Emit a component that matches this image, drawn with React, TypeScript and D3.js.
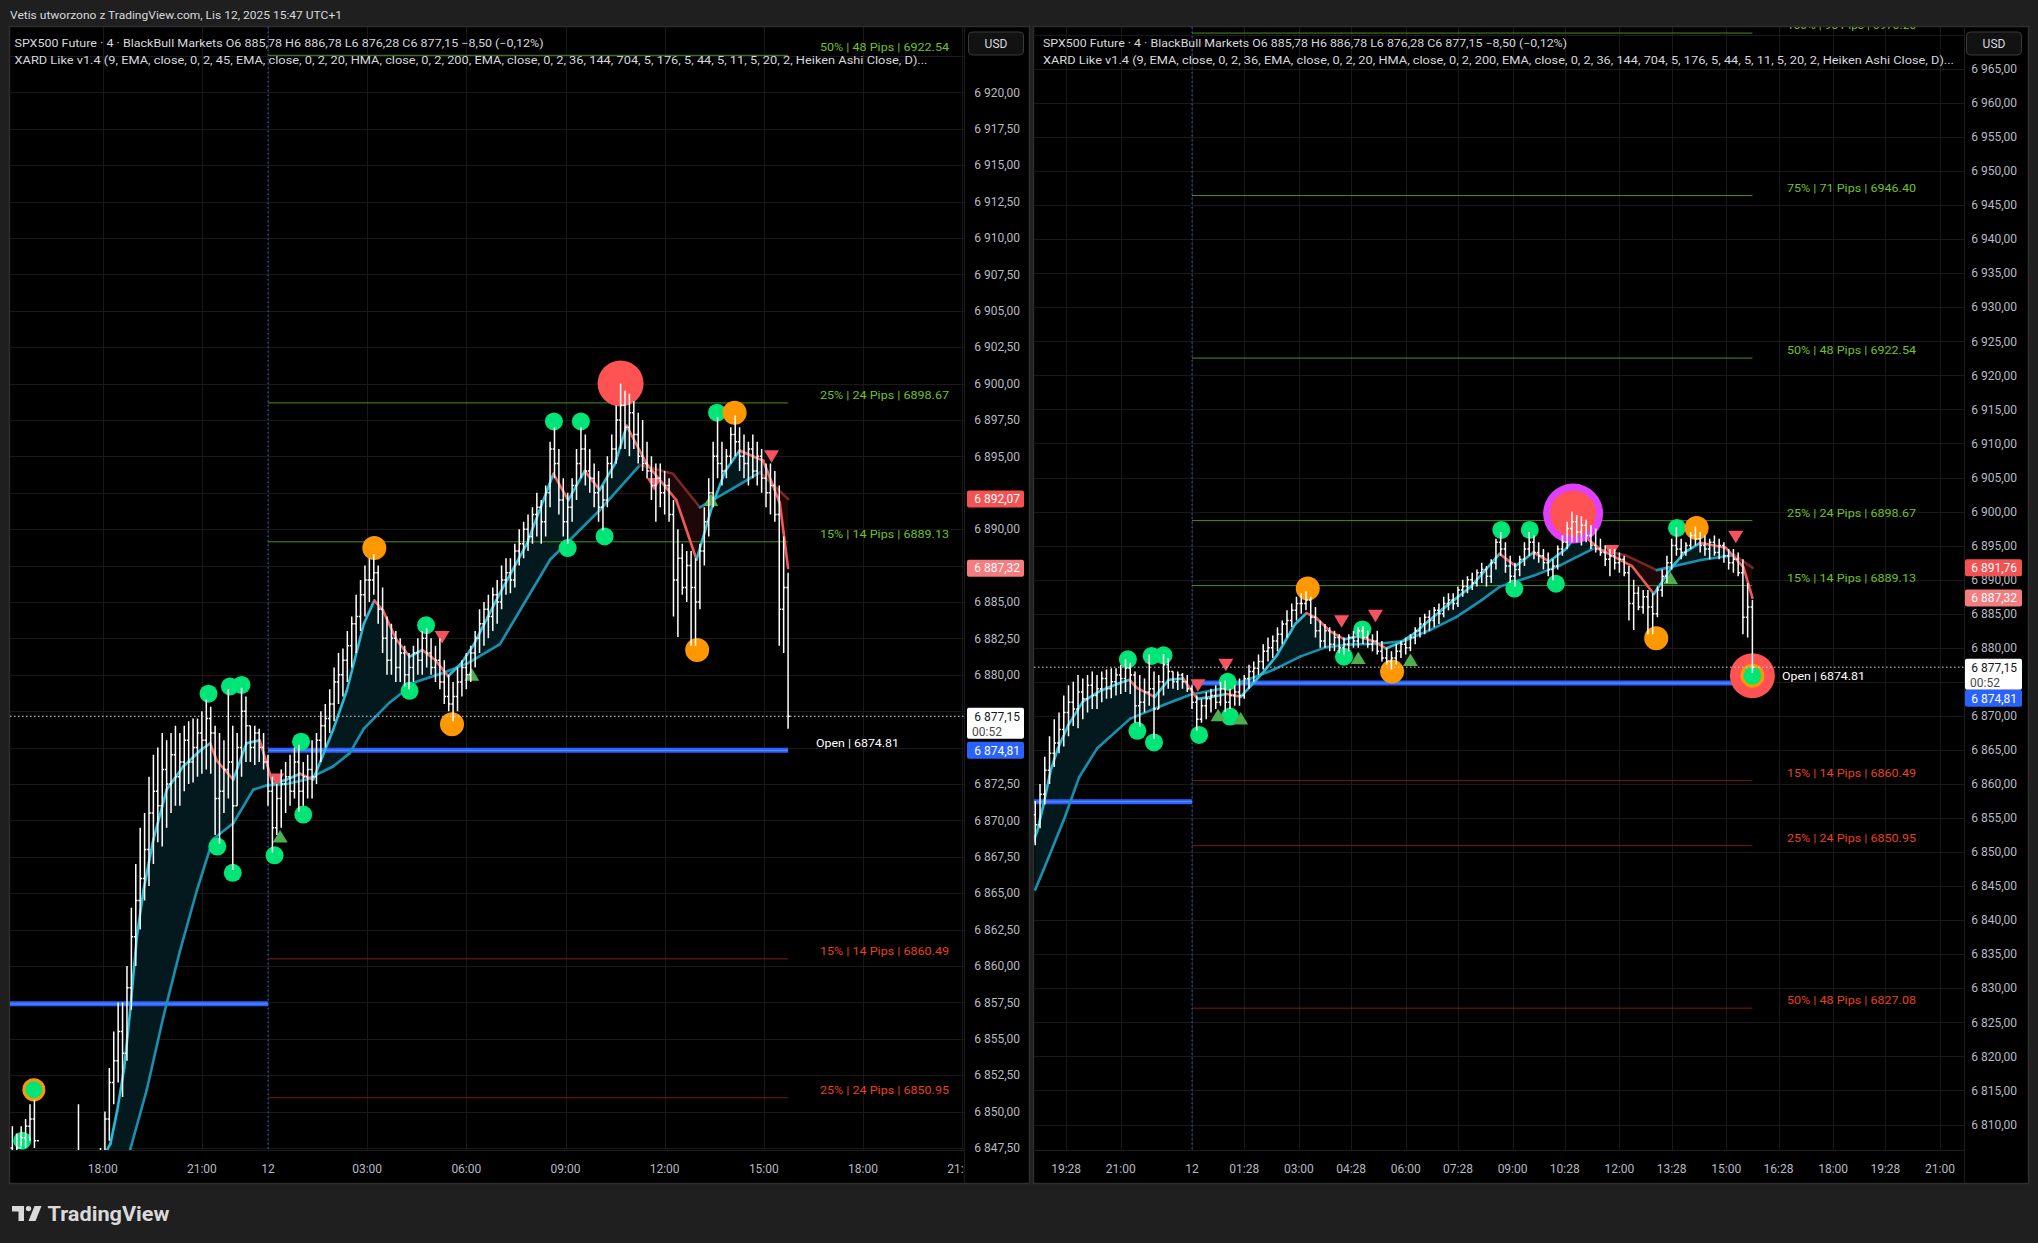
import React, { useEffect } from "react";
import * as d3 from "d3";

const FONT = "Roboto, 'Noto Sans', 'Liberation Sans', sans-serif";

// ---------------- DATA ----------------
// Trading time: "11 HH:MM" = 11 Nov, "12 HH:MM" = 12 Nov (daily break 22:00-23:00 removed on the axis)
const barStart = "11 15:16";
const barStepMin = 8;
const firstBarOpen = 6847.5;
const barHigh = [
  6849.0, 6848.5, 6849.0, 6849.5, 6850.5, 6850.8, 6847.2, 6847.0, 6846.0, 6845.5,
  6845.0, 6845.0, 6846.0, 6846.5, 6847.0, 6850.5, 6847.0, 6847.0, 6847.0, 6847.2,
  6847.5, 6850.0, 6853.0, 6855.5, 6857.5, 6857.5, 6860.0, 6864.0, 6867.0, 6869.5,
  6870.5, 6873.0, 6874.5, 6875.0, 6876.0, 6875.5, 6876.0, 6876.5, 6876.0, 6876.5,
  6876.8, 6877.0, 6877.0, 6877.5, 6878.3, 6877.8, 6876.5, 6876.0, 6875.5, 6879.0,
  6876.5, 6876.0, 6879.1, 6878.5, 6876.5, 6876.5, 6876.3, 6876.0, 6874.5, 6873.0,
  6872.5, 6873.5, 6874.0, 6874.5, 6875.0, 6875.2, 6874.0, 6874.5, 6875.5, 6876.0,
  6877.5, 6878.0, 6879.0, 6880.5, 6881.5, 6881.8, 6883.0, 6884.0, 6885.5, 6886.5,
  6887.5, 6888.0, 6888.3, 6887.5, 6886.0, 6884.0, 6883.5, 6883.0, 6882.5, 6882.0,
  6881.5, 6882.0, 6882.5, 6883.0, 6883.2, 6882.5, 6882.0, 6882.5, 6881.0, 6880.0,
  6879.5, 6880.5, 6881.0, 6881.5, 6882.0, 6883.0, 6884.5, 6885.0, 6885.5, 6886.0,
  6886.5, 6887.5, 6888.0, 6888.0, 6889.0, 6890.0, 6890.5, 6891.0, 6891.5, 6892.5,
  6892.0, 6893.0, 6896.0, 6897.0, 6895.5, 6893.5, 6892.5, 6893.5, 6895.5, 6897.0,
  6896.5, 6895.5, 6894.5, 6894.0, 6893.0, 6895.0, 6896.5, 6898.5, 6900.0, 6899.5,
  6899.3, 6898.8, 6898.0, 6897.5, 6896.0, 6895.0, 6894.5, 6894.5, 6894.0, 6893.5,
  6892.0, 6890.0, 6889.0, 6888.5, 6888.5, 6888.0, 6889.0, 6891.5, 6893.5, 6896.0,
  6897.7, 6896.0, 6895.5, 6897.0, 6897.8, 6897.0, 6896.5, 6896.0, 6896.5, 6896.0,
  6895.5, 6894.5, 6894.5, 6894.0, 6893.0, 6889.5, 6887.0,
];
const barLow = [
  6846.0, 6846.0, 6847.6, 6847.5, 6848.0, 6847.5, 6845.5, 6844.5, 6843.5, 6843.0,
  6842.5, 6842.5, 6843.5, 6844.0, 6844.5, 6845.0, 6845.0, 6844.5, 6845.0, 6845.0,
  6845.5, 6846.5, 6848.0, 6850.5, 6852.0, 6851.0, 6853.5, 6857.0, 6860.0, 6862.5,
  6864.5, 6865.5, 6867.0, 6868.5, 6868.2, 6869.5, 6870.5, 6871.0, 6871.0, 6872.0,
  6872.5, 6872.6, 6873.0, 6873.2, 6873.5, 6873.2, 6869.0, 6868.4, 6870.5, 6871.5,
  6866.6, 6871.0, 6873.0, 6874.0, 6874.0, 6873.8, 6874.0, 6873.5, 6871.0, 6867.8,
  6869.0, 6869.5, 6870.5, 6871.0, 6871.5, 6870.6, 6871.0, 6871.5, 6871.5, 6872.5,
  6874.0, 6875.0, 6876.0, 6876.8, 6878.0, 6878.5, 6879.5, 6880.5, 6881.5, 6883.0,
  6884.0, 6885.0, 6885.5, 6883.5, 6881.5, 6880.0, 6880.0, 6879.5, 6879.5, 6879.2,
  6879.0, 6879.5, 6880.0, 6880.0, 6880.5, 6880.0, 6879.5, 6879.0, 6878.0, 6877.5,
  6876.8, 6877.5, 6878.5, 6879.0, 6879.5, 6880.5, 6881.5, 6882.0, 6882.5, 6883.0,
  6883.5, 6884.5, 6885.5, 6885.6, 6886.0, 6887.5, 6888.0, 6888.5, 6889.0, 6889.5,
  6889.0, 6889.5, 6891.5, 6893.5, 6891.0, 6889.5, 6889.0, 6890.5, 6892.0, 6893.5,
  6893.0, 6892.5, 6891.5, 6890.5, 6889.9, 6891.5, 6893.5, 6894.5, 6895.5, 6895.5,
  6895.0, 6895.5, 6894.5, 6894.0, 6893.5, 6892.0, 6890.5, 6891.5, 6891.0, 6890.5,
  6884.0, 6882.6, 6885.5, 6885.0, 6882.0, 6882.0, 6884.5, 6887.5, 6889.5, 6891.5,
  6893.5, 6893.0, 6893.5, 6894.5, 6895.0, 6894.0, 6893.5, 6893.0, 6893.5, 6893.0,
  6892.5, 6891.5, 6891.0, 6890.5, 6882.0, 6881.5, 6876.3,
];
const barClose = [
  6847.0, 6847.5, 6848.2, 6849.0, 6849.5, 6848.0, 6846.0, 6845.0, 6844.5, 6844.0,
  6843.5, 6844.0, 6845.0, 6845.5, 6846.0, 6847.0, 6846.0, 6845.5, 6846.0, 6846.5,
  6847.0, 6849.5, 6852.0, 6853.5, 6855.5, 6854.0, 6858.5, 6862.0, 6864.5, 6866.0,
  6868.0, 6870.5, 6872.0, 6871.0, 6873.5, 6872.5, 6874.5, 6873.0, 6874.0, 6875.5,
  6874.0, 6875.0, 6876.0, 6875.5, 6877.0, 6876.0, 6871.5, 6872.0, 6873.5, 6874.0,
  6871.0, 6875.0, 6877.5, 6876.5, 6875.0, 6876.0, 6875.0, 6874.0, 6872.0, 6869.5,
  6871.5, 6872.5, 6873.0, 6872.0, 6874.0, 6872.0, 6873.0, 6873.5, 6873.0, 6875.5,
  6876.5, 6877.0, 6878.0, 6879.5, 6880.0, 6881.0, 6882.0, 6883.5, 6884.0, 6885.5,
  6886.5, 6886.5, 6887.0, 6884.5, 6882.5, 6881.0, 6882.5, 6880.5, 6881.5, 6880.0,
  6880.5, 6881.5, 6881.0, 6882.5, 6881.5, 6880.5, 6881.0, 6879.5, 6878.5, 6878.0,
  6878.5, 6879.5, 6880.5, 6880.0, 6881.5, 6882.5, 6883.5, 6884.5, 6884.0, 6885.5,
  6885.0, 6886.5, 6887.0, 6886.5, 6888.5, 6889.0, 6890.0, 6889.5, 6891.0, 6891.5,
  6890.5, 6892.5, 6895.5, 6894.5, 6892.0, 6890.5, 6891.5, 6893.0, 6894.5, 6895.5,
  6894.0, 6893.5, 6892.5, 6891.5, 6892.0, 6894.5, 6895.5, 6897.5, 6898.5, 6897.0,
  6898.0, 6896.5, 6895.0, 6894.5, 6894.0, 6893.0, 6893.5, 6892.5, 6893.0, 6891.0,
  6886.5, 6888.0, 6886.0, 6887.5, 6886.0, 6885.0, 6888.5, 6890.5, 6892.5, 6895.0,
  6894.5, 6894.0, 6895.0, 6896.5, 6896.0, 6895.0, 6894.5, 6895.5, 6894.0, 6895.0,
  6893.5, 6892.5, 6893.0, 6891.0, 6884.5, 6886.0, 6877.15,
];

// fast EMA (9) – shared by both charts
const fastLine: [string, number][] = [
  ["11 15:16", 6847.0], ["11 16:20", 6845.0], ["11 17:20", 6846.0], ["11 18:00", 6846.8],
  ["11 18:14", 6847.8], ["11 18:26", 6850.0], ["11 18:39", 6853.0], ["11 18:50", 6857.0],
  ["11 19:02", 6862.0], ["11 19:14", 6865.2], ["11 19:32", 6868.7], ["11 19:56", 6872.1],
  ["11 20:26", 6873.7], ["11 20:57", 6874.8], ["11 21:15", 6875.3], ["11 21:27", 6874.1],
  ["11 21:57", 6872.8], ["11 23:21", 6875.3], ["11 23:45", 6875.5], ["12 00:09", 6872.5],
  ["12 00:34", 6872.8], ["12 00:58", 6873.2], ["12 01:22", 6872.8], ["12 01:58", 6876.2],
  ["12 02:23", 6878.9], ["12 02:54", 6883.5], ["12 03:13", 6885.1], ["12 03:29", 6884.4],
  ["12 03:53", 6882.4], ["12 04:17", 6881.25], ["12 04:40", 6881.7], ["12 05:04", 6881.0],
  ["12 05:27", 6879.9], ["12 05:51", 6880.8], ["12 06:14", 6882.1], ["12 06:38", 6883.9],
  ["12 07:01", 6885.6], ["12 07:50", 6889.0], ["12 08:38", 6893.8], ["12 09:05", 6892.0],
  ["12 09:35", 6894.0], ["12 10:02", 6892.7], ["12 10:30", 6894.5], ["12 10:51", 6897.1],
  ["12 11:27", 6894.5], ["12 12:21", 6892.0], ["12 12:58", 6887.9], ["12 13:28", 6891.8],
  ["12 13:50", 6894.0], ["12 14:16", 6895.4], ["12 14:59", 6894.7], ["12 15:29", 6891.8],
  ["12 15:44", 6887.32],
];
// slow EMA (45) – left chart
const slowLeft: [string, number][] = [
  ["11 15:16", 6846.0], ["11 17:30", 6845.5], ["11 18:30", 6845.8], ["11 18:50", 6847.4],
  ["11 19:20", 6851.5], ["11 19:50", 6856.5], ["11 20:20", 6861.0], ["11 20:51", 6865.2],
  ["11 21:20", 6868.7], ["11 21:57", 6869.8], ["11 23:33", 6872.1], ["11 23:57", 6872.4],
  ["12 00:34", 6872.5], ["12 01:10", 6872.8], ["12 01:58", 6873.7], ["12 02:28", 6874.6],
  ["12 02:54", 6876.3], ["12 03:41", 6878.1], ["12 04:28", 6879.5], ["12 05:16", 6880.1],
  ["12 06:03", 6880.8], ["12 07:01", 6882.1], ["12 08:32", 6887.9], ["12 10:02", 6891.3],
  ["12 11:15", 6894.4], ["12 12:15", 6893.8], ["12 13:04", 6891.5], ["12 14:04", 6892.8],
  ["12 14:53", 6893.9], ["12 15:44", 6892.07],
];
// slow EMA (36) – right chart
const slowRight: [string, number][] = [
  ["11 18:36", 6844.5], ["11 18:50", 6847.4], ["11 19:24", 6854.7], ["11 19:50", 6861.0],
  ["11 20:20", 6865.2], ["11 21:16", 6869.6], ["11 23:12", 6871.6], ["11 23:57", 6873.1],
  ["12 00:50", 6874.0], ["12 01:34", 6875.3], ["12 02:18", 6876.8], ["12 03:02", 6878.7],
  ["12 03:46", 6880.1], ["12 04:29", 6880.5], ["12 05:13", 6880.6], ["12 05:57", 6881.0],
  ["12 06:41", 6882.6], ["12 07:25", 6884.5], ["12 08:08", 6887.0], ["12 08:39", 6889.0],
  ["12 09:36", 6890.6], ["12 10:20", 6892.1], ["12 11:17", 6894.6], ["12 12:10", 6893.6],
  ["12 13:03", 6891.4], ["12 14:17", 6892.9], ["12 15:13", 6893.6], ["12 15:44", 6891.76],
];

type Marker = { t: string; p: number; k: string };
const leftMarkers: Marker[] = [
  { t: "11 15:34", p: 6848.0, k: "g" }, { t: "11 15:55", p: 6851.5, k: "go" },
  { t: "11 21:12", p: 6878.7, k: "g" }, { t: "11 21:51", p: 6879.2, k: "g" },
  { t: "11 23:12", p: 6879.3, k: "g" }, { t: "11 21:28", p: 6868.2, k: "g" },
  { t: "11 21:56", p: 6866.4, k: "g" }, { t: "12 00:12", p: 6867.6, k: "g" },
  { t: "12 00:16", p: 6872.8, k: "td" }, { t: "12 00:22", p: 6868.9, k: "tu" },
  { t: "12 01:00", p: 6875.4, k: "g" }, { t: "12 01:04", p: 6870.4, k: "g" },
  { t: "12 03:13", p: 6888.7, k: "o" }, { t: "12 04:17", p: 6878.9, k: "g" },
  { t: "12 04:47", p: 6883.4, k: "g" }, { t: "12 05:16", p: 6882.6, k: "td" },
  { t: "12 05:34", p: 6876.6, k: "o" }, { t: "12 06:10", p: 6880.0, k: "tu" },
  { t: "12 08:39", p: 6897.4, k: "g" }, { t: "12 09:04", p: 6888.7, k: "g" },
  { t: "12 09:28", p: 6897.4, k: "g" }, { t: "12 10:11", p: 6889.5, k: "g" },
  { t: "12 10:40", p: 6900.0, k: "R" }, { t: "12 11:41", p: 6893.1, k: "td" },
  { t: "12 12:59", p: 6881.7, k: "o" }, { t: "12 13:24", p: 6892.0, k: "tu" },
  { t: "12 13:35", p: 6898.0, k: "g" }, { t: "12 14:07", p: 6898.0, k: "o" },
  { t: "12 15:14", p: 6895.0, k: "td" },
];
const rightMarkers: Marker[] = [
  { t: "11 21:12", p: 6878.3, k: "g" }, { t: "11 21:52", p: 6878.8, k: "g" },
  { t: "11 23:12", p: 6878.9, k: "g" }, { t: "11 21:28", p: 6867.8, k: "g" },
  { t: "11 21:56", p: 6866.1, k: "g" }, { t: "12 00:12", p: 6867.2, k: "g" },
  { t: "12 00:10", p: 6874.5, k: "td" }, { t: "12 00:57", p: 6877.5, k: "td" },
  { t: "12 01:00", p: 6875.0, k: "g" }, { t: "12 01:04", p: 6869.9, k: "g" },
  { t: "12 00:44", p: 6870.1, k: "tu" }, { t: "12 01:22", p: 6869.6, k: "tu" },
  { t: "12 03:15", p: 6888.7, k: "o" }, { t: "12 04:12", p: 6883.9, k: "td" },
  { t: "12 05:09", p: 6884.7, k: "td" }, { t: "12 04:16", p: 6878.7, k: "g" },
  { t: "12 04:47", p: 6882.7, k: "g" }, { t: "12 04:40", p: 6878.5, k: "tu" },
  { t: "12 06:08", p: 6878.2, k: "tu" }, { t: "12 05:37", p: 6876.5, k: "o" },
  { t: "12 08:41", p: 6897.3, k: "g" }, { t: "12 09:29", p: 6897.3, k: "g" },
  { t: "12 09:03", p: 6888.7, k: "g" }, { t: "12 10:13", p: 6889.4, k: "g" },
  { t: "12 10:42", p: 6899.7, k: "RP" }, { t: "12 11:47", p: 6894.2, k: "td" },
  { t: "12 13:02", p: 6881.4, k: "o" }, { t: "12 13:26", p: 6890.2, k: "tu" },
  { t: "12 13:37", p: 6897.6, k: "g" }, { t: "12 14:10", p: 6897.6, k: "o" },
  { t: "12 15:16", p: 6896.3, k: "td" }, { t: "12 15:44", p: 6875.9, k: "ROG" },
];

const levelPercents = ["100%", "75%", "50%", "25%", "15%"];
const levelPips = [95, 71, 48, 24, 14];
const levelsAbove = [6970.26, 6946.4, 6922.54, 6898.67, 6889.13];
const levelsBelow = [6779.36, 6803.22, 6827.08, 6850.95, 6860.49];
const sessionOpen = 6874.81;
const priorOpen = 6857.4;
const sessionStart = "12 00:00";
const countdown = "00:52";

const leftTimeTicks = ["11 18:00", "11 21:00", "12 00:00", "12 03:00", "12 06:00", "12 09:00", "12 12:00", "12 15:00", "12 18:00", "12 21:00"];
const leftTimeLabels = ["18:00", "21:00", "12", "03:00", "06:00", "09:00", "12:00", "15:00", "18:00", "21:00"];
const rightTimeTicks = ["11 19:28", "11 21:00", "12 00:00", "12 01:28", "12 03:00", "12 04:28", "12 06:00", "12 07:28", "12 09:00", "12 10:28", "12 12:00", "12 13:28", "12 15:00", "12 16:28", "12 18:00", "12 19:28", "12 21:00"];
const rightTimeLabels = ["19:28", "21:00", "12", "01:28", "03:00", "04:28", "06:00", "07:28", "09:00", "10:28", "12:00", "13:28", "15:00", "16:28", "18:00", "19:28", "21:00"];

const leftPriceTicks = d3.range(6847.5, 6922.6, 2.5);
const rightPriceTicks = d3.range(6810, 6970.1, 5);

const titleText = "Vetis utworzono z TradingView.com, Lis 12, 2025 15:47 UTC+1";
const symbolLine = "SPX500 Future · 4 · BlackBull Markets  O6 885,78  H6 886,78  L6 876,28  C6 877,15  −8,50 (−0,12%)";
const leftIndicatorLine = "XARD Like v1.4 (9, EMA, close, 0, 2, 45, EMA, close, 0, 2, 20, HMA, close, 0, 2, 200, EMA, close, 0, 2, 36, 144, 704, 5, 176, 5, 44, 5, 11, 5, 20, 2, Heiken Ashi Close, D)...";
const rightIndicatorLine = "XARD Like v1.4 (9, EMA, close, 0, 2, 36, EMA, close, 0, 2, 20, HMA, close, 0, 2, 200, EMA, close, 0, 2, 36, 144, 704, 5, 176, 5, 44, 5, 11, 5, 20, 2, Heiken Ashi Close, D)...";

// ---------------- helpers ----------------
function toTm(s: string): number {
  const [d, hm] = s.split(" ");
  const [h, m] = hm.split(":").map(Number);
  const mins = h * 60 + m;
  if (d === "12") return mins;
  return mins >= 1380 ? mins - 1440 : mins - 1380;
}
const locale = d3.formatLocale({ decimal: ",", thousands: " ", grouping: [3], currency: ["", ""] });
const priceFmt = locale.format(",.2f");

type Cfg = {
  id: string;
  frame: { x: number; y: number; w: number; h: number };
  plot: { x0: number; x1: number; y0: number; y1: number };
  xDomain: [number, number]; xRange: [number, number];
  yDomain: [number, number]; yRange: [number, number];
  priceTicks: number[];
  timeTicks: string[]; timeLabels: string[];
  slow: [string, number][];
  markers: Marker[];
  headerX: number; header1W: number; header2: string; header2W: number;
  levelLabelX: number; openLabelX: number; labelRight: number; tagX: number;
};

const C = {
  bg: "#1f1f1f", panel: "#000000", border: "#2e2e2e", grid: "#191919",
  text: "#d6d8de", axis: "#b8bac2",
  fastUp: "#27bcd6", fastDn: "#f05a5a", slowUp: "#1791b0", slowDn: "#7a2626",
  fillUp: "#03191e", fillDn: "#1e0707",
  lvlUp: "#4a8f1f", lvlUpText: "#72c021", lvlDn: "#7a1c14", lvlDnText: "#e8401c",
  blue: "#2962ff", green: "#00e676", orange: "#ff9800", red: "#ff5252", magenta: "#e040fb",
  triUp: "#4caf50", triDn: "#f7525f", tagRed: "#f45252", tagPink: "#f77c80",
};

function Panel({ cfg }: { cfg: Cfg }) {
  const { plot, id } = cfg;
  const xs = d3.scaleLinear().domain(cfg.xDomain).range(cfg.xRange);
  const ys = d3.scaleLinear().domain(cfg.yDomain).range(cfg.yRange);
  const t0 = toTm(barStart);
  const lastTm = t0 + (barClose.length - 1) * barStepMin;
  const lastClose = barClose[barClose.length - 1];
  const xStart = xs(toTm(sessionStart));
  const xLast = xs(lastTm);

  // bars (OHLC)
  const tick = 1.8;
  let barPath = "";
  barClose.forEach((c, i) => {
    const o = i === 0 ? firstBarOpen : barClose[i - 1];
    const x = xs(t0 + i * barStepMin);
    barPath += `M${x},${ys(barHigh[i])}V${ys(barLow[i])}M${x - tick},${ys(o)}H${x}M${x},${ys(c)}H${x + tick}`;
  });

  const fastPts: [number, number][] = fastLine.map(([t, v]) => [xs(toTm(t)), ys(v)]);
  const slowPts: [number, number][] = cfg.slow.map(([t, v]) => [xs(toTm(t)), ys(v)]);
  const areaBelow = d3.area<[number, number]>().x((d) => d[0]).y0((d) => d[1]).y1(5000);
  const areaAbove = d3.area<[number, number]>().x((d) => d[0]).y0(-5000).y1((d) => d[1]);

  const segs = (pts: [number, number][], vals: number[], up: string, dn: string) =>
    pts.slice(1).map((p, i) => (
      <line key={i} x1={pts[i][0]} y1={pts[i][1]} x2={p[0]} y2={p[1]}
        stroke={vals[i + 1] >= vals[i] ? up : dn} strokeWidth={2.6} strokeLinecap="round" />
    ));

  const levels = [
    ...levelsAbove.map((v, i) => ({ v, up: true, label: `${levelPercents[i]}  | ${levelPips[i]} Pips | ${v.toFixed(2)}` })),
    ...levelsBelow.map((v, i) => ({ v, up: false, label: `${levelPercents[i]}  | ${levelPips[i]} Pips | ${v.toFixed(2)}` })),
  ].filter((l) => ys(l.v) > plot.y0 - 12 && ys(l.v) < plot.y1);

  const marker = (m: Marker, i: number) => {
    const x = xs(toTm(m.t));
    const y = ys(m.p);
    switch (m.k) {
      case "g": return <circle key={i} cx={x} cy={y} r={9} fill={C.green} />;
      case "o": return <circle key={i} cx={x} cy={y} r={12} fill={C.orange} />;
      case "go": return <g key={i}><circle cx={x} cy={y} r={11.5} fill={C.orange} /><circle cx={x} cy={y} r={8.5} fill={C.green} /></g>;
      case "R": return <circle key={i} cx={x} cy={y} r={23} fill={C.red} />;
      case "RP": return <g key={i}><circle cx={x} cy={y} r={30} fill={C.magenta} /><circle cx={x} cy={y} r={23} fill={C.red} /></g>;
      case "ROG": return <g key={i}><circle cx={x} cy={y} r={22.5} fill={C.red} /><circle cx={x} cy={y} r={12} fill={C.orange} /><circle cx={x} cy={y} r={9} fill={C.green} /></g>;
      case "tu": return <polygon key={i} points={`${x - 7.5},${y + 6} ${x + 7.5},${y + 6} ${x},${y - 6.5}`} fill={C.triUp} />;
      case "td": return <polygon key={i} points={`${x - 7.5},${y - 6} ${x + 7.5},${y - 6} ${x},${y + 6.5}`} fill={C.triDn} />;
    }
    return null;
  };

  // tags
  const slowLast = cfg.slow[cfg.slow.length - 1][1];
  const fastLast = fastLine[fastLine.length - 1][1];
  const tagW = 57, tagH = 17;
  const boxTop = ys(lastClose) - 8.5, boxH = 31;
  let blueTop = ys(sessionOpen) - tagH / 2;
  if (blueTop < boxTop + boxH) blueTop = boxTop + boxH;
  const tagBoxes: [number, number][] = [
    [ys(slowLast) - tagH / 2, ys(slowLast) + tagH / 2],
    [ys(fastLast) - tagH / 2, ys(fastLast) + tagH / 2],
    [boxTop, boxTop + boxH],
    [blueTop, blueTop + tagH],
    [32, 55],
  ];
  const hidden = (y: number) => tagBoxes.some(([a, b]) => Math.min(b, y + 6) - Math.max(a, y - 6) > 3);

  return (
    <g>
      <defs>
        <clipPath id={`plot-${id}`}><rect x={plot.x0} y={plot.y0} width={plot.x1 - plot.x0} height={plot.y1 - plot.y0} /></clipPath>
        <clipPath id={`time-${id}`}><rect x={plot.x0} y={plot.y1} width={plot.x1 - plot.x0} height={40} /></clipPath>
        <clipPath id={`aboveSlow-${id}`}><path d={areaAbove(slowPts) || ""} /></clipPath>
        <clipPath id={`belowSlow-${id}`}><path d={areaBelow(slowPts) || ""} /></clipPath>
      </defs>
      <rect x={cfg.frame.x + 0.5} y={cfg.frame.y + 0.5} width={cfg.frame.w} height={cfg.frame.h} fill={C.panel} stroke={C.border} strokeWidth={1.5} />
      {/* grid */}
      <g clipPath={`url(#plot-${id})`} stroke={C.grid} strokeWidth={1}>
        {cfg.priceTicks.map((p) => <line key={p} x1={plot.x0} x2={plot.x1} y1={Math.round(ys(p)) + 0.5} y2={Math.round(ys(p)) + 0.5} />)}
        {cfg.timeTicks.map((t) => <line key={t} y1={plot.y0} y2={plot.y1} x1={Math.round(xs(toTm(t))) + 0.5} x2={Math.round(xs(toTm(t))) + 0.5} />)}
      </g>
      <g clipPath={`url(#plot-${id})`}>
        <path d={areaBelow(fastPts) || ""} fill={C.fillUp} clipPath={`url(#aboveSlow-${id})`} />
        <path d={areaAbove(fastPts) || ""} fill={C.fillDn} clipPath={`url(#belowSlow-${id})`} />
        {/* session break */}
        <line x1={xStart} x2={xStart} y1={plot.y0} y2={plot.y1} stroke={C.blue} strokeWidth={1} strokeDasharray="1.5 3" />
        {/* levels */}
        {levels.map((l, i) => (
          <line key={i} x1={xStart} x2={xLast} y1={ys(l.v)} y2={ys(l.v)} stroke={l.up ? C.lvlUp : C.lvlDn} strokeWidth={1} />
        ))}
        {levels.map((l, i) => (
          <text key={i} x={cfg.levelLabelX} y={ys(l.v) - 4} fill={l.up ? C.lvlUpText : C.lvlDnText} fontSize={11} fontFamily={FONT} textLength={129} lengthAdjust="spacingAndGlyphs">{l.label}</text>
        ))}
        {/* open lines */}
        <line x1={plot.x0} x2={xStart} y1={ys(priorOpen)} y2={ys(priorOpen)} stroke={C.blue} strokeWidth={5} />
        <line x1={plot.x0} x2={xStart} y1={ys(priorOpen)} y2={ys(priorOpen)} stroke="#7fa3ff" strokeWidth={1} opacity={0.7} />
        <line x1={xStart} x2={xLast} y1={ys(sessionOpen)} y2={ys(sessionOpen)} stroke={C.blue} strokeWidth={5} />
        <line x1={xStart} x2={xLast} y1={ys(sessionOpen)} y2={ys(sessionOpen)} stroke="#7fa3ff" strokeWidth={1} opacity={0.7} />
        <text x={cfg.openLabelX} y={ys(sessionOpen) - 3} fill="#ffffff" fontSize={11} fontFamily={FONT} textLength={83} lengthAdjust="spacingAndGlyphs">{`Open | ${sessionOpen.toFixed(2)}`}</text>
        {/* EMA lines */}
        {segs(slowPts, cfg.slow.map((d) => d[1]), C.slowUp, C.slowDn)}
        {segs(fastPts, fastLine.map((d) => d[1]), C.fastUp, C.fastDn)}
        {/* markers */}
        {cfg.markers.map(marker)}
        {/* bars */}
        <path d={barPath} stroke="#ffffff" strokeWidth={1.5} fill="none" />
        {/* last price line */}
        <line x1={plot.x0} x2={plot.x1} y1={ys(lastClose)} y2={ys(lastClose)} stroke="#dddddd" strokeWidth={1} strokeDasharray="1.5 2.5" />
      </g>
      {/* axis separators */}
      <line x1={plot.x1 + 0.5} x2={plot.x1 + 0.5} y1={cfg.frame.y} y2={cfg.frame.y + cfg.frame.h} stroke="#1e1e1e" strokeWidth={1} />
      <line x1={cfg.frame.x} x2={plot.x1} y1={plot.y1 + 0.5} y2={plot.y1 + 0.5} stroke="#1e1e1e" strokeWidth={1} />
      {/* price labels */}
      {cfg.priceTicks.map((p) => {
        const y = ys(p);
        if (y < 62 || y > plot.y1 + 4 || hidden(y)) return null;
        return <text key={p} x={cfg.labelRight} y={y} dy="0.35em" textAnchor="end" fill={C.axis} fontSize={12} fontFamily={FONT}>{priceFmt(p)}</text>;
      })}
      {/* time labels */}
      <g clipPath={`url(#time-${id})`}>
        {cfg.timeTicks.map((t, i) => (
          <text key={t} x={xs(toTm(t))} y={1173} textAnchor="middle" fill={C.axis} fontSize={12} fontFamily={FONT}>{cfg.timeLabels[i]}</text>
        ))}
      </g>
      {/* price tags */}
      <rect x={cfg.tagX} y={ys(slowLast) - tagH / 2} width={tagW} height={tagH} rx={2} fill={C.tagRed} />
      <text x={cfg.labelRight} y={ys(slowLast)} dy="0.36em" textAnchor="end" fill="#fff" fontSize={12} fontFamily={FONT}>{priceFmt(slowLast)}</text>
      <rect x={cfg.tagX} y={ys(fastLast) - tagH / 2} width={tagW} height={tagH} rx={2} fill={C.tagPink} />
      <text x={cfg.labelRight} y={ys(fastLast)} dy="0.36em" textAnchor="end" fill="#fff" fontSize={12} fontFamily={FONT}>{priceFmt(fastLast)}</text>
      <rect x={cfg.tagX} y={boxTop} width={tagW} height={boxH} rx={2} fill="#ffffff" />
      <text x={cfg.labelRight} y={ys(lastClose)} dy="0.36em" textAnchor="end" fill="#131722" fontSize={12} fontFamily={FONT}>{priceFmt(lastClose)}</text>
      <text x={cfg.tagX + 5} y={ys(lastClose) + 15} dy="0.36em" fill="#4a4a4a" fontSize={12} fontFamily={FONT}>{countdown}</text>
      <rect x={cfg.tagX} y={blueTop} width={tagW} height={tagH} rx={2} fill={C.blue} />
      <text x={cfg.labelRight} y={blueTop + tagH / 2} dy="0.36em" textAnchor="end" fill="#fff" fontSize={12} fontFamily={FONT}>{priceFmt(sessionOpen)}</text>
      {/* USD button */}
      <rect x={cfg.tagX + 1.5} y={32} width={55} height={23} rx={4} fill="#121212" stroke="#3a3a3a" strokeWidth={1} />
      <text x={cfg.tagX + 29} y={43.5} dy="0.35em" textAnchor="middle" fill={C.text} fontSize={12} fontFamily={FONT}>USD</text>
      {/* header */}
      <text x={cfg.headerX} y={46.5} fill={C.text} fontSize={11} fontFamily={FONT} textLength={cfg.header1W} lengthAdjust="spacingAndGlyphs">{symbolLine}</text>
      <text x={cfg.headerX} y={64} fill={C.text} fontSize={11} fontFamily={FONT} textLength={cfg.header2W} lengthAdjust="spacingAndGlyphs">{cfg.header2}</text>
    </g>
  );
}

const leftCfg: Cfg = {
  id: "L",
  frame: { x: 9, y: 26, w: 1020, h: 1157 },
  plot: { x0: 10, x1: 964, y0: 27, y1: 1150 },
  xDomain: [0, 1080], xRange: [268, 863],
  yDomain: [6920, 6847.5], yRange: [92.3, 1148],
  priceTicks: leftPriceTicks,
  timeTicks: leftTimeTicks, timeLabels: leftTimeLabels,
  slow: slowLeft, markers: leftMarkers,
  headerX: 14.5, header1W: 529, header2: leftIndicatorLine, header2W: 913,
  levelLabelX: 820, openLabelX: 816, labelRight: 1020, tagX: 967,
};
const rightCfg: Cfg = {
  id: "R",
  frame: { x: 1033, y: 26, w: 995, h: 1157 },
  plot: { x0: 1034, x1: 1964, y0: 27, y1: 1150 },
  xDomain: [0, 1260], xRange: [1192, 1940],
  yDomain: [6965, 6810], yRange: [68.9, 1124.5],
  priceTicks: rightPriceTicks,
  timeTicks: rightTimeTicks, timeLabels: rightTimeLabels,
  slow: slowRight, markers: rightMarkers,
  headerX: 1043, header1W: 524, header2: rightIndicatorLine, header2W: 911,
  levelLabelX: 1787, openLabelX: 1782, labelRight: 2017, tagX: 1965,
};

export default function App() {
  useEffect(() => {
    document.body.style.margin = "0";
    document.body.style.background = C.bg;
  }, []);
  return (
    <svg width={2038} height={1243} style={{ position: "absolute", left: 0, top: 0, display: "block" }}>
      <rect x={0} y={0} width={2038} height={1243} fill={C.bg} />
      <text x={10} y={19} fill={C.text} fontSize={11.5} fontFamily={FONT} textLength={332} lengthAdjust="spacingAndGlyphs">{titleText}</text>
      <Panel cfg={leftCfg} />
      <Panel cfg={rightCfg} />
      {/* TradingView footer logo */}
      <g fill="#d9d9d9">
        <path d="M12,1206 H24 V1221 H18.5 V1211.5 H12 Z" />
        <circle cx={28.5} cy={1208.6} r={2.7} />
        <path d="M34.5,1206 H41.5 L35.5,1221 H28.5 Z" />
        <text x={47.5} y={1220.5} fontSize={20} fontWeight={700} fontFamily={FONT} textLength={122} lengthAdjust="spacingAndGlyphs">TradingView</text>
      </g>
    </svg>
  );
}
